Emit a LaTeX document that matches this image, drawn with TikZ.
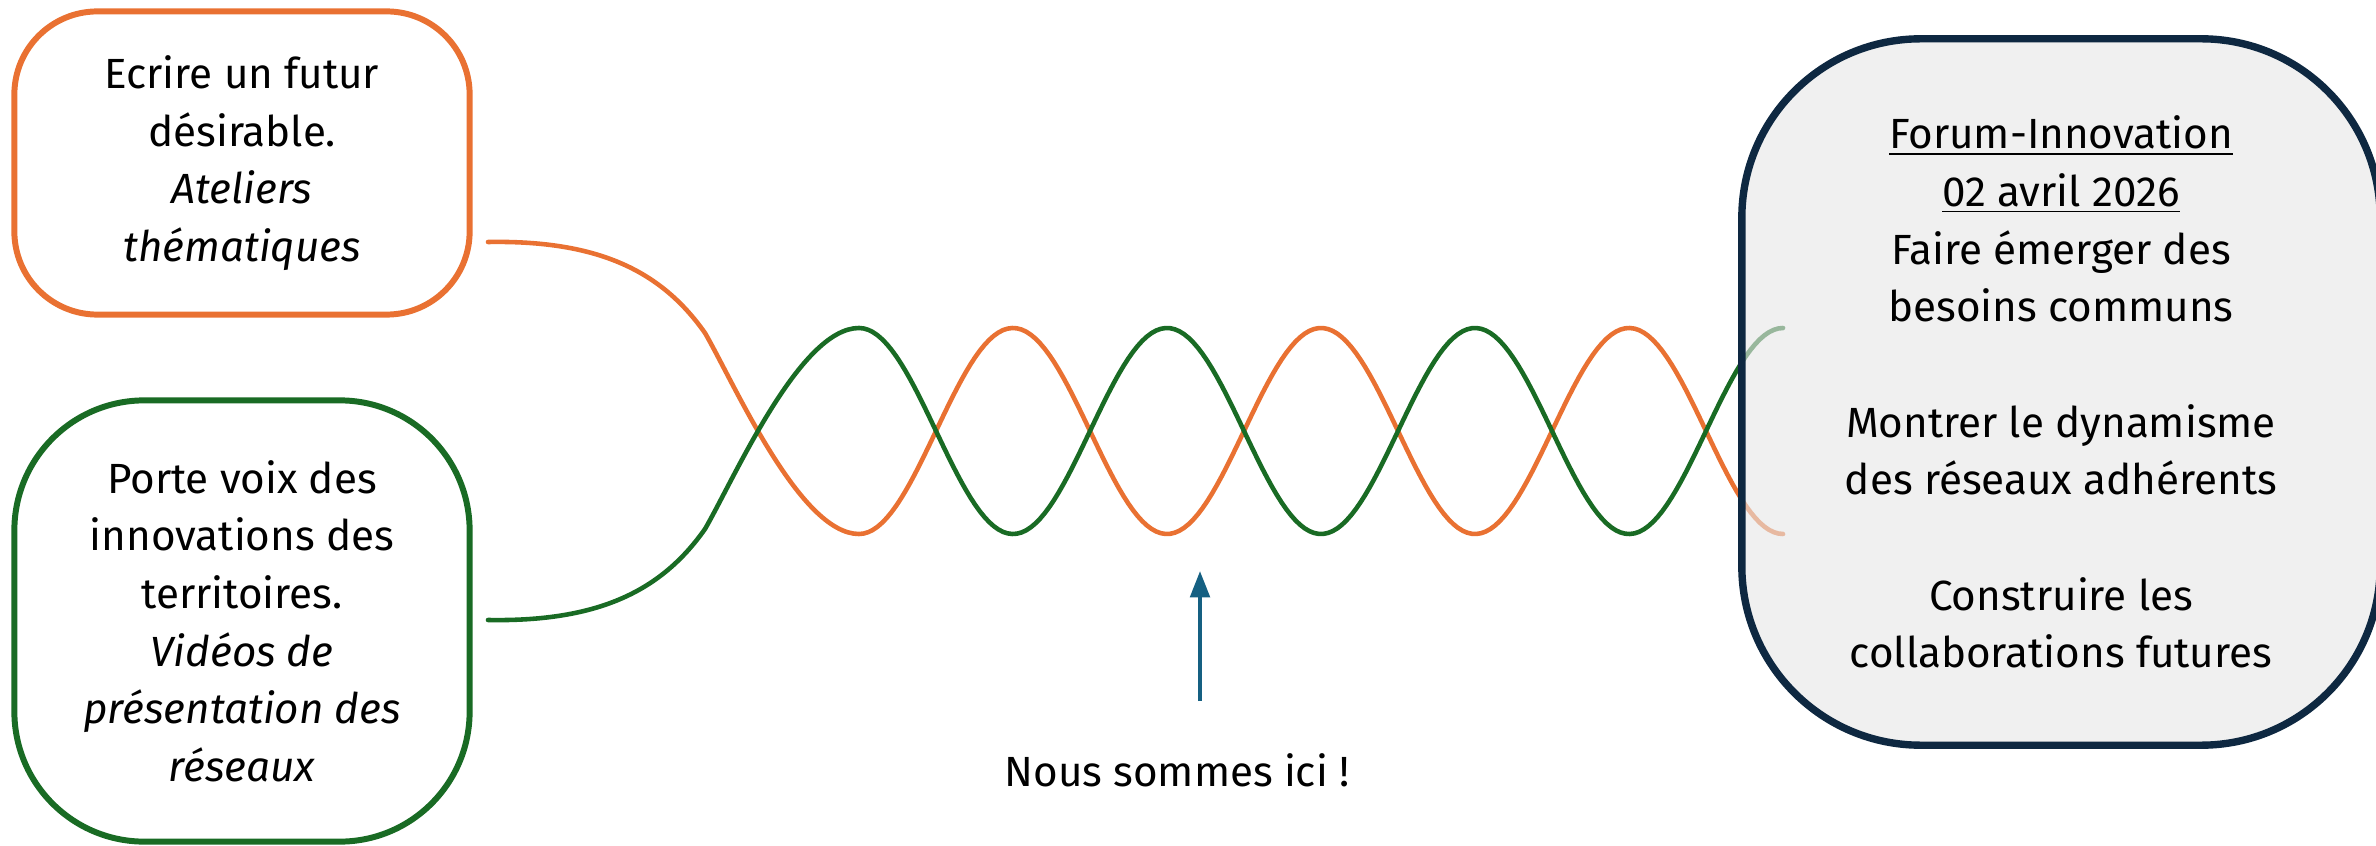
\documentclass[tikz,border=0pt]{standalone}
\usepackage{fontspec}
\setmainfont{Fira Sans}
\usetikzlibrary{arrows.meta}
\definecolor{fibreorange}{HTML}{E97132}
\definecolor{fibregreen}{HTML}{196B24}
\definecolor{forumnavy}{HTML}{0E2841}
\definecolor{forumgray}{HTML}{E6E6E6}
\definecolor{herearrow}{HTML}{156082}

\begin{document}
\begin{tikzpicture}[x=0.01cm, y=-0.01cm,
  boxtext/.style={align=center, font=\fontsize{12}{16.4}\selectfont},
  fibre/.style={line width=1.3pt, line join=round, line cap=round}]
  \useasboundingbox (0,0) rectangle (2376,846);
  % wave: centre 431, amplitude 103, period 308
  \coordinate (oStart) at (488,242);
  \coordinate (oKnee) at (705,333);
  \coordinate (gStart) at (488,620);
  \coordinate (gKnee) at (705,529);
  \draw[fibre, fibreorange] (oStart) .. controls (600,240) and (662,272) .. (oKnee)
    .. controls (735,385) and (800,534) .. (859,534)
    -- plot[domain=859:1783, samples=200] (\x, {431-103*cos((\x-1013)/308*360)});
  \draw[fibre, fibregreen] (gStart) .. controls (600,622) and (662,590) .. (gKnee)
    .. controls (735,477) and (800,328) .. (859,328)
    -- plot[domain=859:1783, samples=200] (\x, {431+103*cos((\x-1013)/308*360)});
  % les trois cadres
  \node[boxtext, draw=fibreorange, line width=1.7pt, rounded corners=0.83cm,
        minimum width=4.55cm, minimum height=3.03cm] (atelier) at (242,163)
    {Ecrire un futur\\ désirable.\\ \textit{Ateliers}\\ \textit{thématiques}};
  \node[boxtext, draw=fibregreen, line width=1.7pt, rounded corners=1.3cm,
        minimum width=4.55cm, minimum height=4.41cm] (video) at (242,621)
    {Porte voix des\\ innovations des\\ territoires.\\ \textit{Vidéos de}\\
     \textit{présentation des}\\ \textit{réseaux}};
  \node[boxtext, draw=forumnavy, line width=2.1pt, rounded corners=1.79cm,
        fill=forumgray, fill opacity=0.62, text opacity=1,
        minimum width=6.38cm, minimum height=7.06cm] (forum) at (2061,392)
    {\underline{Forum-Innovation}\\ \underline{02 avril 2026}\\
     Faire émerger des\\ besoins communs\\[16.4pt]
     Montrer le dynamisme\\ des réseaux adhérents\\[16.4pt]
     Construire les\\ collaborations futures};
  % flèche
  \node[font=\fontsize{12}{14}\selectfont] (ici) at (1177,770) {Nous sommes ici !};
  \coordinate (arrowTail) at (1200,701);
  \coordinate (arrowTip) at (1200,571);
  \draw[herearrow, line width=1.2pt, -{Triangle[width=5.5pt, length=7.5pt]}]
    (arrowTail) -- (arrowTip);
\end{tikzpicture}
\end{document}
